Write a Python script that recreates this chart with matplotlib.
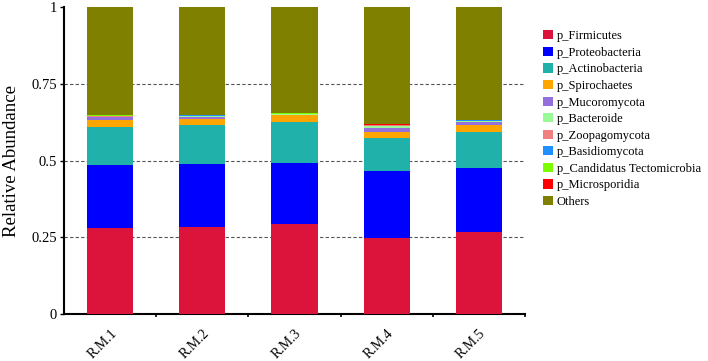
import matplotlib
matplotlib.use("Agg")
import matplotlib.pyplot as plt
import numpy as np

plt.rcParams['font.family'] = ['Liberation Serif', 'DejaVu Serif']

# samples
samples = ['R.M.1', 'R.M.2', 'R.M.3', 'R.M.4', 'R.M.5']

# relative abundance per phylum (bottom to top)
firmicutes = [0.280, 0.284, 0.293, 0.249, 0.268]
proteobacteria = [0.206, 0.206, 0.199, 0.216, 0.208]
actinobacteria = [0.124, 0.125, 0.133, 0.110, 0.117]
spirochaetes = [0.023, 0.022, 0.024, 0.018, 0.022]
mucoromycota = [0.008, 0.006, 0.001, 0.014, 0.010]
bacteroide = [0.002, 0.003, 0.001, 0.007, 0.003]
zoopagomycota = [0.003, 0.001, 0.001, 0.001, 0.002]
basidiomycota = [0.001, 0.001, 0.001, 0.001, 0.001]
tectomicrobia = [0.001, 0.001, 0.001, 0.001, 0.001]
microsporidia = [0.001, 0.001, 0.001, 0.001, 0.001]
others = [0.351, 0.350, 0.345, 0.382, 0.367]

names = ['p_Firmicutes', 'p_Proteobacteria', 'p_Actinobacteria', 'p_Spirochaetes',
         'p_Mucoromycota', 'p_Bacteroide', 'p_Zoopagomycota', 'p_Basidiomycota',
         'p_Candidatus Tectomicrobia', 'p_Microsporidia', 'Others']
series = [firmicutes, proteobacteria, actinobacteria, spirochaetes, mucoromycota,
          bacteroide, zoopagomycota, basidiomycota, tectomicrobia, microsporidia, others]
colors = ['#DC143C', '#0000FF', '#20B2AA', '#FFA500', '#9370DB', '#98FB98',
          '#F08080', '#1E90FF', '#7CFC00', '#FF0000', '#808000']

fig = plt.figure(figsize=(7.08, 3.61), dpi=100)
ax = fig.add_axes([0.0904, 0.130, 0.651, 0.850])

x = np.arange(len(samples))
bottom = np.zeros(len(samples))
for name, vals, c in zip(names, series, colors):
    ax.bar(x, vals, 0.5, bottom=bottom, color=c, label=name, linewidth=0, zorder=3)
    bottom += np.array(vals)

# dashed guide lines
for yv in [0.25, 0.5, 0.75]:
    ax.axhline(yv, color='#555555', linestyle=(0, (3, 2)), linewidth=0.8, zorder=1)

ax.set_xlim(-0.5, 4.5)
ax.set_ylim(0, 1)
ax.set_yticks([0, 0.25, 0.5, 0.75, 1])
ax.set_yticklabels(['0', '0.25', '0.5', '0.75', '1'], fontsize=10.5)
ax.set_xticks(x)
ax.set_xticklabels(samples, rotation=45, ha='right', rotation_mode='anchor', fontsize=10)
ax.tick_params(axis='x', length=0, pad=9)
ax.set_xticks(np.arange(-0.5, 5, 1)[1:], minor=True)
ax.tick_params(axis='x', which='minor', length=2, width=1.2, direction='out')
ax.tick_params(axis='y', length=3, width=1, direction='out', pad=2)
ax.set_ylabel('Relative Abundance', fontsize=13.5, labelpad=8)

for s in ['top', 'right']:
    ax.spines[s].set_visible(False)
for s in ['left', 'bottom']:
    ax.spines[s].set_linewidth(1.5)

ax.legend(loc='upper left', bbox_to_anchor=(0.760, 0.93), bbox_transform=fig.transFigure,
          frameon=False, fontsize=9, handlelength=0.8, handleheight=0.75,
          handletextpad=0.3, labelspacing=0.365, borderaxespad=0)

fig.savefig('out.png', dpi=100)
